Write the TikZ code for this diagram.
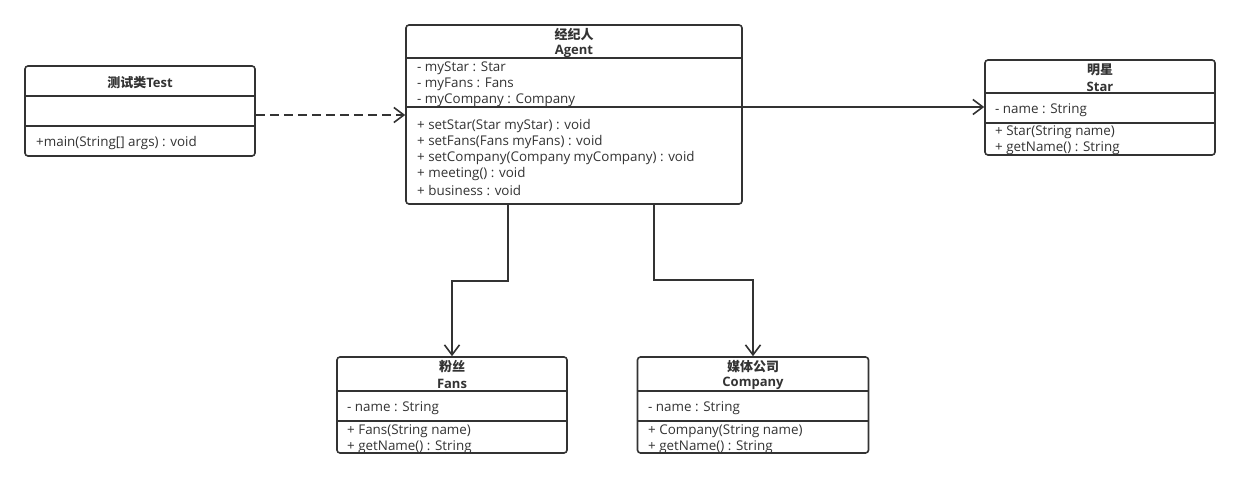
\documentclass[tikz,border=0pt]{standalone}
\usepackage{fontspec}
\setmainfont{Open Sans}
\newfontfamily\cjk{Noto Sans CJK SC}
\usetikzlibrary{arrows.meta}
\definecolor{ink}{HTML}{333333}
\tikzset{
  classbox/.style={draw=ink, line width=1.6pt, rounded corners=3pt, inner sep=0pt, fill=white},
  divider/.style={draw=ink, line width=1.6pt},
  member/.style={anchor=west, inner sep=0pt, text=ink, yshift=-1.5pt, font=\fontsize{13.4}{15}\selectfont},
  ctitle/.style={anchor=center, inner sep=0pt, text=ink, yshift=-1.5pt, font=\fontsize{13}{15}\selectfont\bfseries},
  cjktitle/.style={anchor=center, inner sep=0pt, text=ink, yshift=-1pt, font=\fontsize{13}{15}\selectfont\cjk\bfseries},
  assoc/.style={draw=ink, line width=1.6pt, -{Straight Barb[length=10pt,width=15pt,line width=1.6pt]}},
  dep/.style={assoc, dash pattern=on 9pt off 5pt}
}
\begin{document}
\begin{tikzpicture}[x=1pt,y=-1pt]
\useasboundingbox (0,0) rectangle (1240,478);
% ---------- Test
\node[classbox, minimum width=230pt, minimum height=90pt] (test) at (140,111) {};
\draw[divider] (test.west |- 0,96) -- (test.east |- 0,96);
\draw[divider] (test.west |- 0,126) -- (test.east |- 0,126);
\node[ctitle] (testname) at (140,81) {{\cjk 测试类}Test};
\node[member] (testm1) at (36,142) {+main(String[] args) : void};
% ---------- Agent
\node[classbox, minimum width=336pt, minimum height=179pt] (agent) at (574,114.5) {};
\draw[divider] (agent.west |- 0,58) -- (agent.east |- 0,58);
\draw[divider] (agent.west |- 0,107) -- (agent.east |- 0,107);
\node[cjktitle] (agentcn) at (574,34) {经纪人};
\node[ctitle] (agentname) at (574,50) {Agent};
\node[member] (agenta1) at (417,67) {- myStar : Star};
\node[member] (agenta2) at (417,83) {- myFans : Fans};
\node[member] (agenta3) at (417,99) {- myCompany : Company};
\node[member] (agentm1) at (417,125) {+ setStar(Star myStar) : void};
\node[member] (agentm2) at (417,141) {+ setFans(Fans myFans) : void};
\node[member] (agentm3) at (417,157) {+ setCompany(Company myCompany) : void};
\node[member] (agentm4) at (417,173) {+ meeting() : void};
\node[member] (agentm5) at (417,189) {+ business : void};
% ---------- Star
\node[classbox, minimum width=230pt, minimum height=95pt] (star) at (1100,107.5) {};
\draw[divider] (star.west |- 0,93) -- (star.east |- 0,93);
\draw[divider] (star.west |- 0,123) -- (star.east |- 0,123);
\node[cjktitle] (starcn) at (1100,69) {明星};
\node[ctitle] (starname) at (1100,85) {Star};
\node[member] (stara1) at (995,109) {- name : String};
\node[member] (starm1) at (995,131) {+ Star(String name)};
\node[member] (starm2) at (995,147) {+ getName() : String};
% ---------- Fans
\node[classbox, minimum width=230pt, minimum height=96pt] (fans) at (452,405) {};
\draw[divider] (fans.west |- 0,391) -- (fans.east |- 0,391);
\draw[divider] (fans.west |- 0,421) -- (fans.east |- 0,421);
\node[cjktitle] (fanscn) at (452,366) {粉丝};
\node[ctitle] (fansname) at (452,382) {Fans};
\node[member] (fansa1) at (347,407) {- name : String};
\node[member] (fansm1) at (347,430) {+ Fans(String name)};
\node[member] (fansm2) at (347,446) {+ getName() : String};
% ---------- Company
\node[classbox, minimum width=231pt, minimum height=96pt] (company) at (753,405) {};
\draw[divider] (company.west |- 0,391) -- (company.east |- 0,391);
\draw[divider] (company.west |- 0,421) -- (company.east |- 0,421);
\node[cjktitle] (companycn) at (753,366) {媒体公司};
\node[ctitle] (companyname) at (753,382) {Company};
\node[member] (companya1) at (648,407) {- name : String};
\node[member] (companym1) at (648,430) {+ Company(String name)};
\node[member] (companym2) at (648,446) {+ getName() : String};
% ---------- Connectors
\draw[dep] ([yshift=-4pt]test.east) -- ([yshift=-4pt]test.east -| agent.west);
\draw[assoc] ([yshift=7.5pt]agent.east) -- ([yshift=7.5pt]agent.east -| star.west);
\draw[assoc] ([xshift=-66pt]agent.south) -- ++(0,76) -| (fans.north);
\draw[assoc] ([xshift=80pt]agent.south) -- ++(0,75) -| (company.north);
\end{tikzpicture}
\end{document}
